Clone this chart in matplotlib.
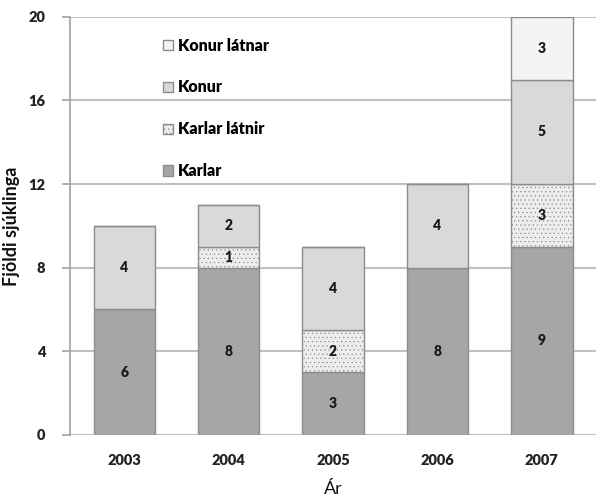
import matplotlib
matplotlib.use("Agg")
import matplotlib.pyplot as plt
from matplotlib.patches import Patch
import numpy as np

years = ["2003", "2004", "2005", "2006", "2007"]
karlar = [6, 8, 3, 8, 9]
karlar_latnir = [0, 1, 2, 0, 3]
konur = [4, 2, 4, 4, 5]
konur_latnar = [0, 0, 0, 0, 3]

series = [
    ("Karlar", karlar, "#a6a6a6", None),
    ("Karlar látnir", karlar_latnir, "#ededed", "...."),
    ("Konur", konur, "#d9d9d9", None),
    ("Konur látnar", konur_latnar, "#f4f4f4", None),
]

plt.rcParams['font.family'] = ['Lato', 'DejaVu Sans']
plt.rcParams['hatch.color'] = '#d4d4d4'
plt.rcParams['hatch.linewidth'] = 0.4

fig = plt.figure(figsize=(5.99, 4.97), dpi=100)
ax = fig.add_axes([0.117, 0.125, 0.878, 0.841])

x = np.arange(len(years))
bottom = np.zeros(len(years))
handles = []
for name, vals, col, hatch in series:
    vals = np.array(vals, dtype=float)
    ax.bar(x, vals, 0.59, bottom=bottom, color=col, edgecolor="#8c8c8c",
           linewidth=1.0, hatch=hatch, zorder=3)
    for xi, v, b in zip(x, vals, bottom):
        if v > 0:
            ax.text(xi, b + v / 2, f"{int(v)}", ha="center", va="center",
                    fontsize=10, fontweight="heavy", color="#1a1a1a", zorder=4)
    bottom += vals
    handles.append(Patch(facecolor=col, edgecolor="#8c8c8c", hatch=hatch, label=name))

ax.set_xlim(-0.52, 4.52)
ax.set_ylim(0, 20)
ax.set_yticks([0, 4, 8, 12, 16, 20])
ax.grid(axis="y", color="#c0c0c0", linewidth=1.5, zorder=0)
ax.set_axisbelow(True)
for s in ["top", "right", "bottom"]:
    ax.spines[s].set_visible(False)
ax.spines["left"].set_color("#a0a0a0")
ax.spines["left"].set_linewidth(1.2)
ax.tick_params(axis="y", length=6, color="#a0a0a0", width=1.2, labelsize=10.5, pad=12)
ax.tick_params(axis="x", length=0, labelsize=10.5, pad=14)
ax.set_xticks(x)
ax.set_xticklabels(years)
for lab in ax.get_xticklabels() + ax.get_yticklabels():
    lab.set_fontweight("heavy")
    lab.set_color("#222222")

ax.set_ylabel("Fjöldi sjúklinga", fontsize=13, fontweight="bold", labelpad=6, color="#111111")
ax.set_xlabel("Ár", fontsize=13, labelpad=10, color="#111111")

ax.legend(handles=handles[::-1], loc="upper left", bbox_to_anchor=(0.15, 0.985),
          frameon=False, labelspacing=1.62, handlelength=0.6, handleheight=0.6,
          handletextpad=0.3, prop={"weight": "heavy", "size": 11.5})

fig.savefig("out.png", dpi=100)
